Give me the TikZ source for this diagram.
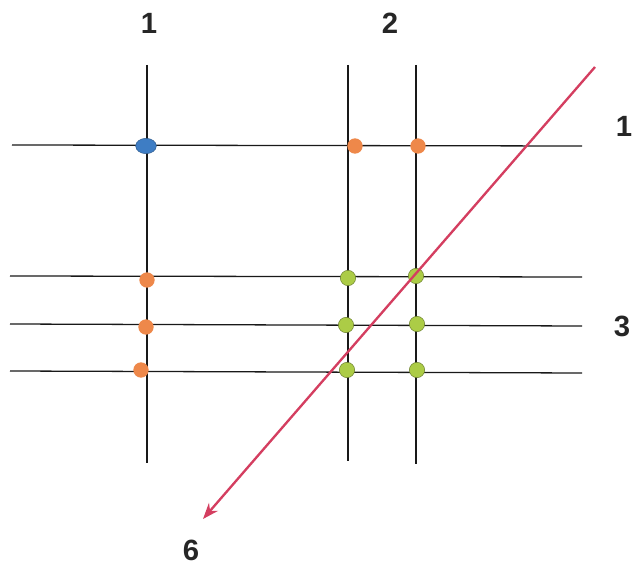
\documentclass[tikz,border=0pt]{standalone}
\usepackage{fontspec}
\setmainfont{Liberation Sans}
\usepackage{xcolor}
\usetikzlibrary{arrows.meta,calc,shapes.geometric}
\definecolor{dotblue}{RGB}{62,125,196}
\definecolor{dotorange}{RGB}{238,136,74}
\definecolor{dotgreen}{RGB}{172,204,70}
\definecolor{arrowred}{RGB}{212,62,96}

\begin{document}
\begin{tikzpicture}[
    x=0.03cm, y=-0.03cm,
    grid/.style={draw=black!90, line width=1.1pt},
    bluedot/.style={ellipse, fill=dotblue, draw=dotblue!70!black, inner sep=0pt, minimum width=0.62cm, minimum height=0.46cm},
    orangedot/.style={circle, fill=dotorange, inner sep=0pt, minimum size=0.46cm},
    greendot/.style={circle, fill=dotgreen, draw=dotgreen!60!black, thin, inner sep=0pt, minimum size=0.46cm},
    lbl/.style={font=\fontsize{25}{28}\selectfont\bfseries, text=black!85}
]
    % frame
    \useasboundingbox (0,0) rectangle (633,566);

    % vertical lines
    \coordinate (v1t) at (147,65);  \coordinate (v1b) at (147,463);
    \coordinate (v2t) at (348,65);  \coordinate (v2b) at (348,461);
    \coordinate (v3t) at (416,65);  \coordinate (v3b) at (416,464);
    % horizontal lines
    \coordinate (h1l) at (12,145);  \coordinate (h1r) at (582,146);
    \coordinate (h2l) at (10,276);  \coordinate (h2r) at (582,277);
    \coordinate (h3l) at (10,324);  \coordinate (h3r) at (582,326);
    \coordinate (h4l) at (10,371);  \coordinate (h4r) at (582,373);

    \path[grid] (v1t) -- (v1b);
    \path[grid] (v2t) -- (v2b);
    \path[grid] (v3t) -- (v3b);
    \path[grid] (h1l) -- (h1r);
    \path[grid] (h2l) -- (h2r);
    \path[grid] (h3l) -- (h3r);
    \path[grid] (h4l) -- (h4r);

    % dots
    \node[bluedot] (b11) at (146,146) {};
    \node[orangedot] (o21) at (355,146) {};
    \node[orangedot] (o31) at (418,146) {};
    \node[orangedot] (o12) at (147,280) {};
    \node[orangedot] (o13) at (146,327) {};
    \node[orangedot] (o14) at (141,370) {};
    \node[greendot] (g22) at (348,278) {};
    \node[greendot] (g32) at (416,276) {};
    \node[greendot] (g23) at (346,325) {};
    \node[greendot] (g33) at (417,324) {};
    \node[greendot] (g24) at (347,370) {};
    \node[greendot] (g34) at (417,370) {};

    % red arrow
    \coordinate (rstart) at (595,67);
    \coordinate (rend) at (203,519);
    \draw[draw=arrowred, line width=2pt, -{Stealth[length=0.48cm, width=0.36cm]}] (rstart) -- (rend);

    % labels
    \node[lbl] (c1) at (149,23) {1};
    \node[lbl] (c2) at (390,23) {2};
    \node[lbl] (r1) at (624,126) {1};
    \node[lbl] (r3) at (622,326) {3};
    \node[lbl] (d6) at (191,550) {6};
\end{tikzpicture}
\end{document}
